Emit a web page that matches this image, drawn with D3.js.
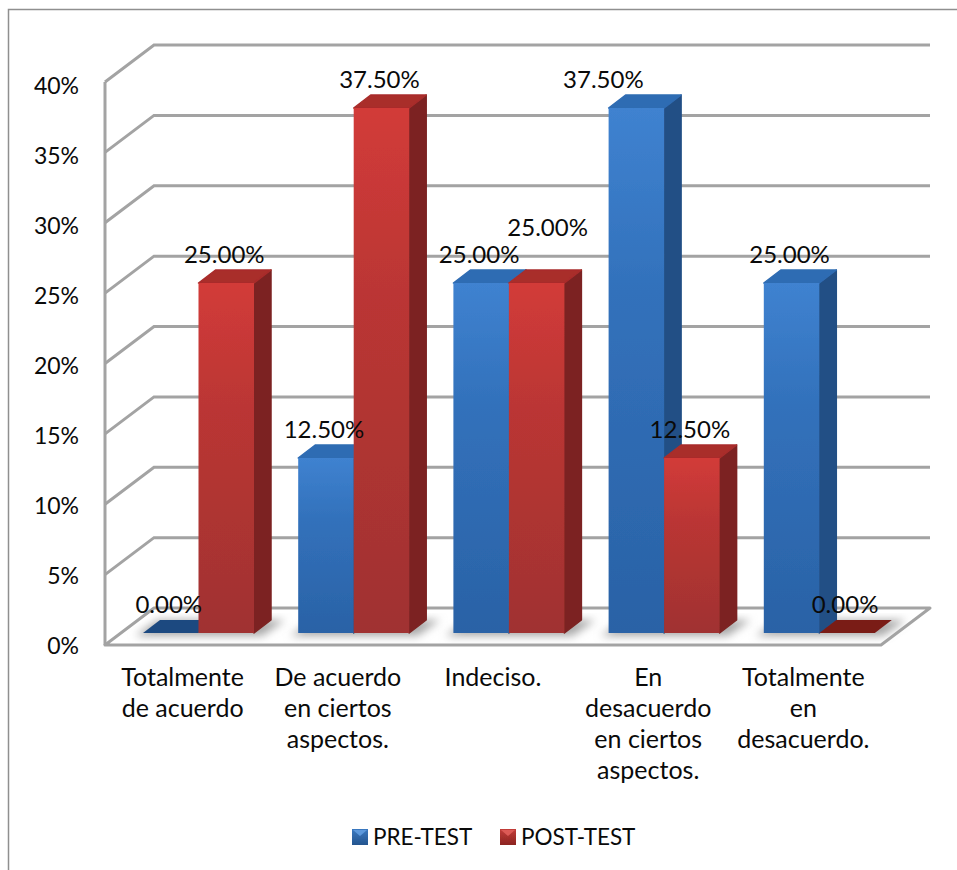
<!DOCTYPE html>
<html>
<head>
<meta charset="utf-8">
<script src="https://cdn.jsdelivr.net/npm/d3@7"></script>
<style>
  html, body { margin: 0; padding: 0; background: #fff; }
  svg { display: block; }
  text { font-family: Lato, "Open Sans", sans-serif; font-size: 22.5px; fill: #0a0a0a; }
  text.value { font-size: 24px; }
</style>
</head>
<body>
<div id="chart"></div>
<script>
// data
var categories = ['Totalmente de acuerdo', 'De acuerdo en ciertos aspectos.', 'Indeciso.', 'En desacuerdo en ciertos aspectos.', 'Totalmente en desacuerdo.']
var categoryLines = [
  ['Totalmente', 'de acuerdo'],
  ['De acuerdo', 'en ciertos', 'aspectos.'],
  ['Indeciso.'],
  ['En', 'desacuerdo', 'en ciertos', 'aspectos.'],
  ['Totalmente', 'en', 'desacuerdo.']
]
var seriesNames = ['PRE-TEST', 'POST-TEST']
var preTest = [0, 12.5, 25, 37.5, 25]
var postTest = [25, 37.5, 25, 12.5, 0]
var yTicks = [0, 5, 10, 15, 20, 25, 30, 35, 40]

var width = 957, height = 870

// 3d offsets: wall depth and bar depth
var wallDx = 49, wallDy = -37
var barDx = 17, barDy = -13
var barLift = 12

var svg = d3.select('#chart').append('svg')
    .attr('width', width)
    .attr('height', height)

var defs = svg.append('defs')

defs.append('filter').attr('id', 'soft')
    .attr('x', '-5%').attr('y', '-5%').attr('width', '110%').attr('height', '110%')
  .append('feGaussianBlur').attr('stdDeviation', 0.6)

defs.append('filter').attr('id', 'floorShadow')
    .attr('x', '-20%').attr('y', '-40%').attr('width', '140%').attr('height', '180%')
  .append('feGaussianBlur').attr('stdDeviation', 4)

function gradient(id, stops) {
  var g = defs.append('linearGradient').attr('id', id)
      .attr('x1', 0).attr('y1', 0)
      .attr('x2', 0).attr('y2', 1)
  stops.forEach(function(s) {
    g.append('stop').attr('offset', s[0]).attr('stop-color', s[1])
  })
}

var colors = {
  'PRE-TEST': { front: 'frontBlue', side: '#234f85', top: '#2f6cb3', flat: '#1f4a80', flap: '#5c98dc' },
  'POST-TEST': { front: 'frontRed', side: '#7c2422', top: '#a92d2b', flat: '#7a1b19', flap: '#dc5a56' }
}
gradient('frontBlue', [[0, '#3f82d0'], [0.35, '#3271bb'], [1, '#2a62a6']])
gradient('frontRed', [[0, '#d23b39'], [0.35, '#bb3634'], [1, '#a03230']])
gradient('legendBlue', [[0, '#3a78c0'], [1, '#24558f']])
gradient('legendRed', [[0, '#c23c39'], [1, '#8c2421']])

// scales
var x0 = d3.scaleBand().domain(categories).range([105, 881])
var x1 = d3.scaleBand().domain(seriesNames).range([38, 149])
var y = d3.scaleLinear().domain([0, 40]).range([645, 82])
var yBar = d3.scaleLinear().domain([0, 40]).range([645 - barLift, 73])

// outer border, only top and left are in the picture
svg.append('path')
    .attr('d', d3.line()([[8.5, height], [8.5, 9.5], [width, 9.5]]))
    .attr('fill', 'none')
    .attr('stroke', '#8f8f8f')
    .attr('stroke-width', 1.5)

var marks = svg.append('g').attr('filter', 'url(#soft)')

// back wall gridlines and the slanted lines on the side wall
var grid = marks.append('g')
    .attr('fill', 'none')
    .attr('stroke', '#a3a3a3')
    .attr('stroke-width', 3)

grid.selectAll('path.grid')
  .data(yTicks.slice(1))
  .enter().append('path')
    .attr('class', 'grid')
    .attr('d', function(d) {
      return d3.line()([[105, y(d)], [105 + wallDx, y(d) + wallDy], [881 + wallDx, y(d) + wallDy]])
    })

// floor
var floorBack = y(0) + wallDy
marks.append('path')
    .attr('d', d3.line()([[105, y(0)], [105 + wallDx, floorBack], [881 + wallDx, floorBack], [881, y(0)]]) + 'Z')
    .attr('fill', '#fff')
    .attr('stroke', '#a3a3a3')
    .attr('stroke-width', 3)
    .attr('stroke-linejoin', 'round')

// left wall edge
grid.append('path')
    .attr('d', d3.line()([[105, y(40)], [105, y(0)]]))

// shadow on the floor around the bars
marks.selectAll('path.shadow')
  .data(categories)
  .enter().append('path')
    .attr('class', 'shadow')
    .attr('fill', '#a8a8a8')
    .attr('filter', 'url(#floorShadow)')
    .attr('d', function(d) {
      var l = x0(d) + x1.range()[0] - 8, r = l + 111 + 16, b = yBar(0) + 3
      return d3.line()([[l, b], [l + barDx + 6, b + barDy - 3], [r + barDx + 6, b + barDy - 3], [r, b]]) + 'Z'
    })

// bars
var rows = []
categories.forEach(function(c, i) {
  rows.push({ cat: c, series: 'PRE-TEST', value: preTest[i] })
  rows.push({ cat: c, series: 'POST-TEST', value: postTest[i] })
})

var bars = marks.selectAll('g.bar')
  .data(rows)
  .enter().append('g')
    .attr('class', 'bar')

bars.each(function(d) {
  var g = d3.select(this)
  var c = colors[d.series]
  var l = x0(d.cat) + x1(d.series), r = l + x1.bandwidth()
  var t = yBar(d.value), b = yBar(0)

  // zero value is only the flat top lying on the floor
  if (d.value === 0) {
    g.append('path')
        .attr('d', d3.line()([[l, b], [l + barDx, b + barDy], [r + barDx, b + barDy], [r, b]]) + 'Z')
        .attr('fill', c.flat)
    return
  }

  g.append('path')
      .attr('d', d3.line()([[r, t], [r + barDx, t + barDy], [r + barDx, b + barDy], [r, b]]) + 'Z')
      .attr('fill', c.side)
      .attr('stroke', c.side)
      .attr('stroke-width', 1.5)
      .attr('stroke-linejoin', 'round')
  g.append('path')
      .attr('d', d3.line()([[l, t], [l + barDx, t + barDy], [r + barDx, t + barDy], [r, t]]) + 'Z')
      .attr('fill', c.top)
      .attr('stroke', c.top)
      .attr('stroke-width', 1.5)
      .attr('stroke-linejoin', 'round')
  g.append('rect')
      .attr('x', l)
      .attr('y', t)
      .attr('width', x1.bandwidth())
      .attr('height', b - t)
      .attr('fill', 'url(#' + c.front + ')')
})

// y axis, labels only. The labels are spaced like the bars, not like the wall
var yAxis = svg.append('g')
    .attr('transform', 'translate(79,' + (barLift + 1) + ')')
    .call(d3.axisLeft(yBar).tickValues(yTicks).tickSize(0).tickPadding(0).tickFormat(function(d) { return d + '%' }))
yAxis.select('.domain').remove()
yAxis.selectAll('text').style('font-size', '23px').style('font-family', 'Lato, "Open Sans", sans-serif').attr('fill', '#0a0a0a')

// x axis, labels wrapped by hand like the picture
var xAxis = svg.append('g')
    .attr('transform', 'translate(0,664)')
    .call(d3.axisBottom(x0).tickSize(0).tickPadding(0))
xAxis.select('.domain').remove()
xAxis.selectAll('text')
    .style('font-size', '25px')
    .style('font-family', 'Lato, "Open Sans", sans-serif')
    .attr('fill', '#0a0a0a')
    .each(function(d, i) {
      var t = d3.select(this).text(null).attr('y', 0).attr('dy', null)
      categoryLines[i].forEach(function(line, k) {
        t.append('tspan')
            .attr('x', 0)
            .attr('y', 22 + k * 31)
            .text(line)
      })
    })

// value labels, a few were dragged by hand in the original
var nudge = { 'Indeciso.|POST-TEST': [13, -27], 'En desacuerdo en ciertos aspectos.|PRE-TEST': [-31, 0] }

svg.selectAll('text.value')
  .data(rows)
  .enter().append('text')
    .attr('class', 'value')
    .attr('text-anchor', 'middle')
    .attr('x', function(d) {
      var n = nudge[d.cat + '|' + d.series] || [0, 0]
      return x0(d.cat) + x1(d.series) + x1.bandwidth() / 2 - 2 + n[0]
    })
    .attr('y', function(d) {
      var n = nudge[d.cat + '|' + d.series] || [0, 0]
      return yBar(d.value) - 20 + n[1]
    })
    .text(function(d) { return d3.format('.2f')(d.value) + '%' })

// legend
var legendX = d3.scaleOrdinal().domain(seriesNames).range([352, 500])
var legend = svg.selectAll('g.legend')
  .data(seriesNames)
  .enter().append('g')
    .attr('class', 'legend')
    .attr('transform', function(d) { return 'translate(' + legendX(d) + ',829)' })

legend.append('rect')
    .attr('width', 16)
    .attr('height', 16)
    .attr('fill', function(d) { return d === 'PRE-TEST' ? 'url(#legendBlue)' : 'url(#legendRed)' })
    .attr('filter', 'url(#soft)')

// the little flap on the legend key
legend.append('path')
    .attr('d', d3.line()([[1, 1], [8, 7], [15, 1]]) + 'Z')
    .attr('fill', function(d) { return colors[d].flap })
    .attr('filter', 'url(#soft)')

legend.append('text')
    .attr('x', 21)
    .attr('y', 16)
    .text(function(d) { return d })
</script>
</body>
</html>
